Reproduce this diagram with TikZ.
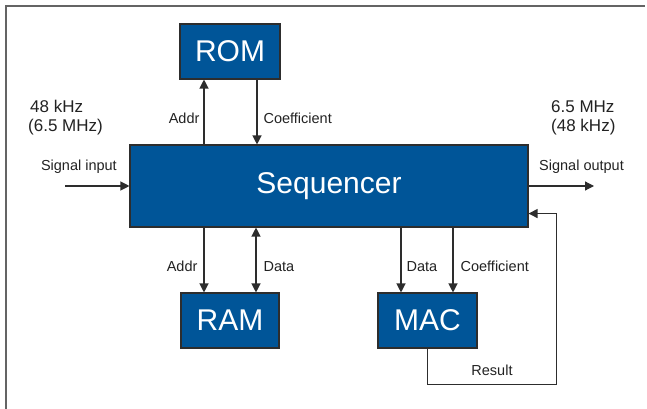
\documentclass[tikz,border=0pt]{standalone}
\usepackage{fontspec}
\setmainfont{Liberation Sans}
\usetikzlibrary{arrows.meta,calc,positioning}

\definecolor{blockblue}{RGB}{0,85,152}
\definecolor{linegray}{RGB}{45,45,45}
\definecolor{framegray}{RGB}{100,100,100}
\definecolor{labelgray}{RGB}{34,34,34}

\begin{document}
\begin{tikzpicture}[x=1pt,y=-1pt,
  block/.style={draw=linegray,line width=1.1pt,fill=blockblue,text=white,inner sep=0pt,font=\fontsize{30}{32}\selectfont},
  wire/.style={draw=linegray,line width=1.2pt},
  sig/.style={wire,-{Triangle[length=9pt,width=9pt]}},
  bisig/.style={wire,{Triangle[length=9pt,width=9pt]}-{Triangle[length=9pt,width=9pt]}},
  lbl/.style={font=\fontsize{14.5}{16}\selectfont,text=labelgray,inner sep=0pt},
  rate/.style={font=\fontsize{17}{19}\selectfont,text=labelgray,inner sep=0pt}]
  \useasboundingbox (0,0) rectangle (647,409);
  \draw[framegray,line width=2pt] (5.7,409) -- (5.7,5.7) -- (645,5.7);

  % blocks
  \node[block,minimum width=100pt,minimum height=55pt] (rom) at (230,51.5) {ROM};
  \node[block,minimum width=398pt,minimum height=82pt] (seq) at (329,186) {Sequencer};
  \node[block,minimum width=98pt,minimum height=55pt] (ram) at (230,320.5) {RAM};
  \node[block,minimum width=99pt,minimum height=55pt] (mac) at (427.5,320.5) {MAC};

  % ROM port
  \coordinate (romaddr) at ($(rom.south)+(-26,0)$);
  \coordinate (romcoef) at ($(rom.south)+(27,0)$);
  \draw[sig] (romaddr |- seq.north) -- (romaddr)
    node[lbl,pos=0.33,anchor=base east,xshift=-4pt] (romaddrlbl) {Addr};
  \draw[sig] (romcoef) -- (romcoef |- seq.north)
    node[lbl,pos=0.67,anchor=base west,xshift=6pt] (romcoeflbl) {Coefficient};

  % RAM port
  \coordinate (ramaddr) at ($(ram.north)+(-26,0)$);
  \coordinate (ramdata) at ($(ram.north)+(26,0)$);
  \draw[sig] (ramaddr |- seq.south) -- (ramaddr)
    node[lbl,pos=0.68,anchor=base east,xshift=-6pt] (ramaddrlbl) {Addr};
  \draw[bisig] (ramdata |- seq.south) -- (ramdata)
    node[lbl,pos=0.68,anchor=base west,xshift=7pt] (ramdatalbl) {Data};

  % MAC port and result feedback
  \coordinate (macdata) at ($(mac.north)+(-26.5,0)$);
  \coordinate (maccoef) at ($(mac.north)+(25.5,0)$);
  \draw[sig] (macdata |- seq.south) -- (macdata)
    node[lbl,pos=0.68,anchor=base west,xshift=5pt] (macdatalbl) {Data};
  \draw[sig] (maccoef |- seq.south) -- (maccoef)
    node[lbl,pos=0.68,anchor=base west,xshift=7pt] (maccoeflbl) {Coefficient};
  \coordinate (fb) at ($(mac.south)+(129,36)$);
  \draw[sig] (mac.south) |- (fb)
    node[lbl,pos=0.75,anchor=base,yshift=9pt] (resultlbl) {Result}
    |- ($(seq.south east)+(0,-14)$);

  % signal in and out
  \coordinate (sigin) at (65,186);
  \coordinate (sigout) at (594,186);
  \draw[sig] (sigin) -- (seq.west);
  \draw[sig] (seq.east) -- (sigout);
  \node[lbl,anchor=base east] (inlbl) at (117,170) {Signal input};
  \node[lbl,anchor=base west] (outlbl) at (539,170) {Signal output};
  \node[rate,anchor=base west] (inrate) at (30,112.7) {48 kHz};
  \node[rate,anchor=base west] (inalt) at (28,131.5) {(6.5 MHz)};
  \node[rate,anchor=base west] (outrate) at (551,112.5) {6.5 MHz};
  \node[rate,anchor=base west] (outalt) at (551,131.5) {(48 kHz)};
\end{tikzpicture}
\end{document}
